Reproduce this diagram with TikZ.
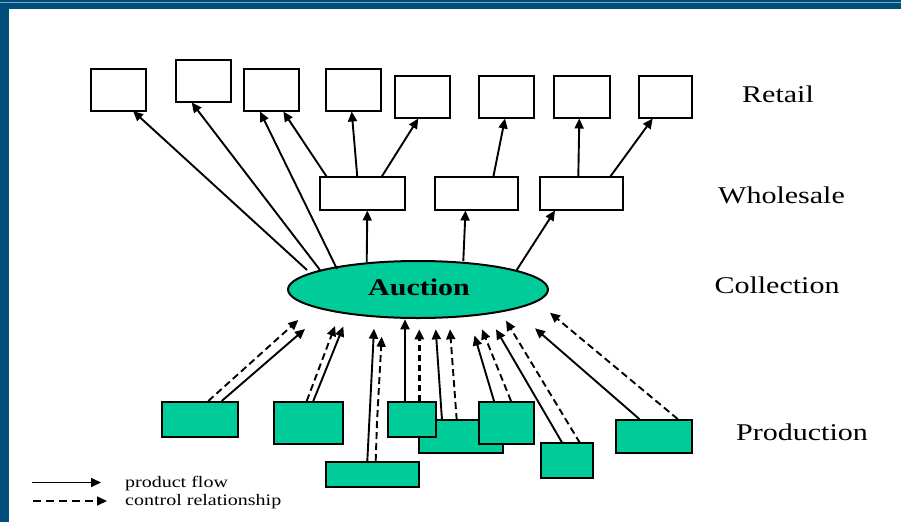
\documentclass[tikz,border=0pt]{standalone}
\usepackage{fontspec}
\setmainfont{Liberation Serif}
\usetikzlibrary{arrows.meta,shapes.geometric}
\definecolor{frameblue}{RGB}{0,78,122}
\definecolor{framelight}{RGB}{130,170,200}
\definecolor{prodgreen}{RGB}{0,204,153}
\tikzset{
  rbox/.style={draw=black, line width=2pt, fill=white, inner sep=0pt, minimum width=55pt, minimum height=42pt},
  gbox/.style={draw=black, line width=2pt, fill=prodgreen, inner sep=0pt},
  pf/.style={line width=1.9pt, -{Triangle[length=10pt,width=9pt]}},
  cf/.style={line width=1.9pt, dash pattern=on 7pt off 4pt, -{Triangle[length=10pt,width=9pt]}},
  lvl/.style={font=\fontsize{24}{28}\selectfont, inner sep=0pt},
  leg/.style={font=\fontsize{16}{18}\selectfont, inner sep=0pt, anchor=west}
}
\begin{document}
\begin{tikzpicture}[x=1pt,y=-1pt]
\useasboundingbox (0,0) rectangle (901,522);
\fill[white] (0,0) rectangle (901,522);
% frame
\fill[frameblue] (0,0) rectangle (901,9);
\fill[frameblue] (0,0) rectangle (9,522);
\fill[framelight] (0,1.5) rectangle (901,2.6);

% retail boxes
\node[rbox] (R1) at (118.5,90) {};
\node[rbox] (R2) at (203.5,81) {};
\node[rbox] (R3) at (271.5,90) {};
\node[rbox] (R4) at (353.5,90) {};
\node[rbox] (R5) at (422.5,97) {};
\node[rbox] (R6) at (506.5,97) {};
\node[rbox, minimum width=56pt] (R7) at (582,97) {};
\node[rbox, minimum width=53pt] (R8) at (665.5,97) {};

% wholesale boxes
\node[rbox, minimum width=85pt, minimum height=33pt] (W1) at (362.5,193.5) {};
\node[rbox, minimum width=83pt, minimum height=33pt] (W2) at (476.5,193.5) {};
\node[rbox, minimum width=83pt, minimum height=33pt] (W3) at (581.5,193.5) {};

% auction
\node[draw=black, line width=2pt, fill=prodgreen, ellipse, minimum width=260pt, minimum height=57pt, inner sep=0pt] (E) at (418,289.5) {};
\node[inner sep=0pt, font=\fontsize{24}{28}\selectfont\bfseries] (Etxt) at (419,287) {\scalebox{1.25}[1]{Auction}};

% production boxes
\node[gbox, minimum width=76pt, minimum height=35pt] (P1) at (200,419.5) {};
\node[gbox, minimum width=69pt, minimum height=42pt] (P2) at (308.5,423) {};
\node[gbox, minimum width=93pt, minimum height=25pt] (P3) at (372.5,474.5) {};
\node[gbox, minimum width=84pt, minimum height=33pt] (P5) at (461,436.5) {};
\node[gbox, minimum width=48pt, minimum height=35pt] (P4) at (412,419.5) {};
\node[gbox, minimum width=55pt, minimum height=42pt] (P6) at (506.5,423) {};
\node[gbox, minimum width=52pt, minimum height=35pt] (P7) at (567,460.5) {};
\node[gbox, minimum width=76pt, minimum height=33pt] (P8) at (654,436.5) {};

% level labels
\node[lvl] (Lr) at (778,94) {\scalebox{1.25}[1]{Retail}};
\node[lvl] (Lw) at (781.5,195) {\scalebox{1.25}[1]{Wholesale}};
\node[lvl] (Lc) at (777,285) {\scalebox{1.25}[1]{Collection}};
\node[lvl] (Lp) at (802,432) {\scalebox{1.25}[1]{Production}};

% endpoints: auction to retail / wholesale
\coordinate (e1) at (307,270);
\coordinate (e2) at (320,270);
\coordinate (e3) at (337,269);
\coordinate (e4) at (366.7,262);
\coordinate (e5) at (463.3,261);
\coordinate (e6) at (516.7,270);
\coordinate (r1) at (133,111);
\coordinate (r2) at (191.7,102.5);
\coordinate (r3a) at (260,111.5);
\coordinate (r3b) at (283.3,111.5);
\coordinate (r4) at (351.7,111.5);
\coordinate (r5) at (418.3,118.5);
\coordinate (r6) at (505,118.5);
\coordinate (r7) at (579.3,118.5);
\coordinate (r8) at (652.7,118.5);
\coordinate (w1a) at (326.7,176.7);
\coordinate (w1b) at (357.3,177);
\coordinate (w1c) at (381.7,176.7);
\coordinate (w2a) at (493.3,177);
\coordinate (w3a) at (578.3,177);
\coordinate (w3b) at (610,177);
\coordinate (w1in) at (367.3,210.5);
\coordinate (w2in) at (465.5,210.5);
\coordinate (w3in) at (555,210.5);

\draw[pf] (e1) -- (r1);
\draw[pf] (e2) -- (r2);
\draw[pf] (e3) -- (r3a);
\draw[pf] (w1a) -- (r3b);
\draw[pf] (w1b) -- (r4);
\draw[pf] (w1c) -- (r5);
\draw[pf] (w2a) -- (r6);
\draw[pf] (w3a) -- (r7);
\draw[pf] (w3b) -- (r8);
\draw[pf] (e4) -- (w1in);
\draw[pf] (e5) -- (w2in);
\draw[pf] (e6) -- (w3in);

% production to auction
\coordinate (p1s) at (221.7,401);   \coordinate (p1st) at (305,329);
\coordinate (p1d) at (208.3,401);   \coordinate (p1dt) at (298.3,320);
\coordinate (p2s) at (313.3,401);   \coordinate (p2st) at (343.3,326.5);
\coordinate (p2d) at (306.7,401);   \coordinate (p2dt) at (335,326);
\coordinate (p3s) at (367.3,461);   \coordinate (p3st) at (374,328.7);
\coordinate (p3d) at (375.7,461);   \coordinate (p3dm) at (377,422);   \coordinate (p3dt) at (381.7,336.7);
\coordinate (p4s) at (405,401);     \coordinate (p4st) at (405,319.3);
\coordinate (p4d) at (419.3,401);   \coordinate (p4dt) at (419.3,329.3);
\coordinate (p5s) at (442,420);     \coordinate (p5st) at (435.7,329.3);
\coordinate (p5d) at (456.7,420);   \coordinate (p5dt) at (450,329.3);
\coordinate (p6s) at (494,401);     \coordinate (p6st) at (474.5,335.5);
\coordinate (p6d) at (511,401);     \coordinate (p6dt) at (482,329.3);
\coordinate (p7s) at (562.3,443);   \coordinate (p7st) at (496,329.3);
\coordinate (p7d) at (580,443);     \coordinate (p7dt) at (506,320.7);
\coordinate (p8s) at (639.3,419);   \coordinate (p8st) at (535,328.3);
\coordinate (p8d) at (677.7,419);   \coordinate (p8dt) at (550,312.7);

\draw[pf] (p1s) -- (p1st);
\draw[cf] (p1d) -- (p1dt);
\draw[pf] (p2s) -- (p2st);
\draw[cf] (p2d) -- (p2dt);
\draw[pf] (p3s) -- (p3st);
\draw[cf] (p3d) -- (p3dm) -- (p3dt);
\draw[pf] (p4s) -- (p4st);
\draw[cf, line width=3pt, dash pattern=on 6pt off 4pt] (p4d) -- (p4dt);
\draw[pf] (p5s) -- (p5st);
\draw[cf] (p5d) -- (p5dt);
\draw[pf] (p6s) -- (p6st);
\draw[cf] (p6d) -- (p6dt);
\draw[pf] (p7s) -- (p7st);
\draw[cf] (p7d) -- (p7dt);
\draw[pf] (p8s) -- (p8st);
\draw[cf] (p8d) -- (p8dt);

% legend
\coordinate (l1a) at (32,482.5);  \coordinate (l1b) at (101,482.5);
\coordinate (l2a) at (33,501);    \coordinate (l2b) at (107,501);
\draw[pf, line width=1.6pt] (l1a) -- (l1b);
\draw[cf, line width=1.6pt, dash pattern=on 8pt off 5pt] (l2a) -- (l2b);
\node[leg] (t1) at (125,484) {\scalebox{1.25}[1]{product flow}};
\node[leg] (t2) at (125,502) {\scalebox{1.25}[1]{control relationship}};
\end{tikzpicture}
\end{document}
